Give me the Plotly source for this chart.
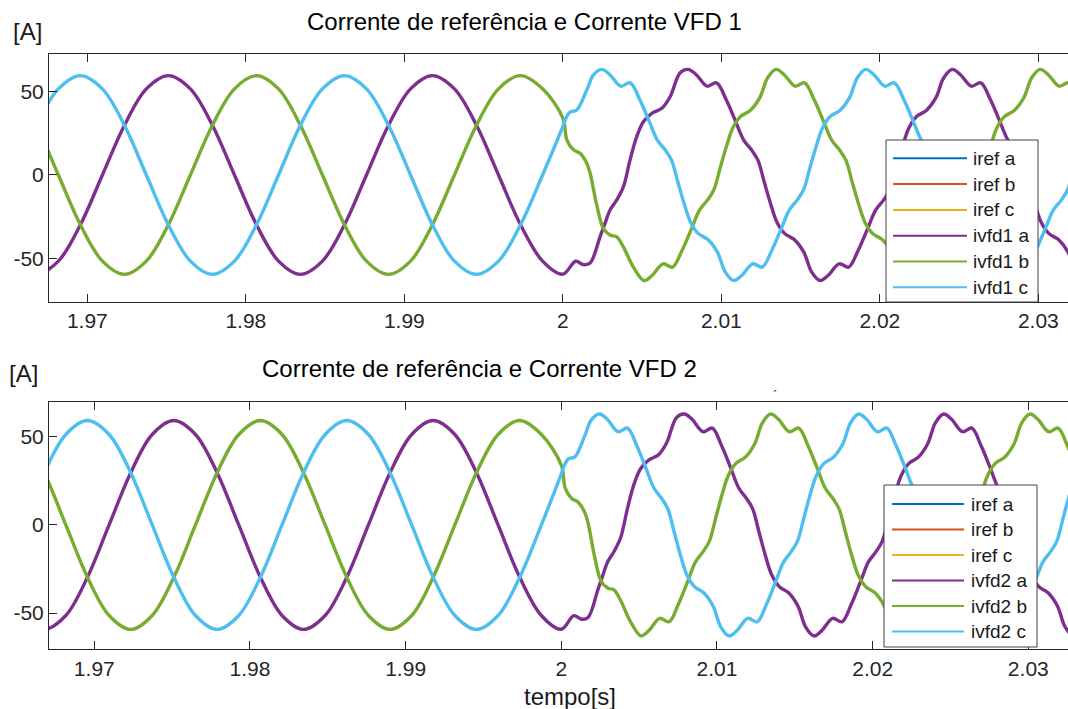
import plotly.graph_objects as go

# ---------------- data ----------------
# phase a (iref a / ivfd a)
t_a = [1.96539, 1.96678, 1.96817, 1.96956, 1.97095, 1.97234, 1.97372, 1.97511, 1.97650, 1.97789,
       1.97928, 1.98067, 1.98206, 1.98344, 1.98483, 1.98622, 1.98761, 1.98900, 1.99039, 1.99177,
       1.99316, 1.99455, 1.99594, 1.99733, 1.99872, 2.00000, 2.00080, 2.00130, 2.00172, 2.00235,
       2.00266, 2.00298, 2.00340, 2.00382, 2.00424, 2.00466, 2.00508, 2.00561, 2.00624, 2.00677,
       2.00740, 2.00790, 2.00840, 2.00910, 2.00970, 2.01030, 2.01090, 2.01140, 2.01190, 2.01230,
       2.01270, 2.01310, 2.01350, 2.01400, 2.01460, 2.01520, 2.01570, 2.01623, 2.01673, 2.01743,
       2.01803, 2.01863, 2.01923, 2.01973, 2.02023, 2.02063, 2.02103, 2.02143, 2.02183, 2.02233,
       2.02293, 2.02353, 2.02403, 2.02457, 2.02507, 2.02577, 2.02637, 2.02697, 2.02757, 2.02807,
       2.02857, 2.02897, 2.02937, 2.02977, 2.03017, 2.03067, 2.03127, 2.03187, 2.03237, 2.03290,
       2.03340]
i_a = [-51.4, -59.3, -51.4, -29.7, 0.0, 29.7, 51.4, 59.3, 51.4, 29.7,
       0.0, -29.7, -51.4, -59.3, -51.4, -29.7, 0.0, 29.7, 51.4, 59.3,
       51.4, 29.7, 0.0, -29.7, -51.4, -59.2, -51.5, -53.5, -52.5, -36.8,
       -28.8, -20.9, -14.9, -7.0, 9.0, 22.9, 31.8, 36.8, 39.8, 46.7,
       61.0, 63.0, 60.0, 53.0, 55.0, 45.0, 32.0, 21.0, 15.0, 9.0,
       -4.0, -17.0, -28.0, -35.0, -38.5, -46.0, -58.0, -63.0, -60.0, -53.0,
       -55.0, -45.0, -32.0, -21.0, -15.0, -9.0, 4.0, 17.0, 28.0, 35.0,
       38.5, 46.0, 58.0, 63.0, 60.0, 53.0, 55.0, 45.0, 32.0, 21.0,
       15.0, 9.0, -4.0, -17.0, -28.0, -35.0, -38.5, -46.0, -58.0, -63.0,
       -60.0]

# phase b (iref b / ivfd b)
t_b = [1.96539, 1.96678, 1.96817, 1.96956, 1.97095, 1.97234, 1.97372, 1.97511, 1.97650, 1.97789,
       1.97928, 1.98067, 1.98206, 1.98344, 1.98483, 1.98622, 1.98761, 1.98900, 1.99039, 1.99177,
       1.99316, 1.99455, 1.99594, 1.99733, 1.99872, 2.00000, 2.00025, 2.00067, 2.00109, 2.00151,
       2.00172, 2.00214, 2.00256, 2.00298, 2.00340, 2.00382, 2.00445, 2.00512, 2.00562, 2.00632,
       2.00692, 2.00752, 2.00812, 2.00862, 2.00912, 2.00952, 2.00992, 2.01032, 2.01072, 2.01122,
       2.01182, 2.01242, 2.01292, 2.01345, 2.01395, 2.01465, 2.01525, 2.01585, 2.01645, 2.01695,
       2.01745, 2.01785, 2.01825, 2.01865, 2.01905, 2.01955, 2.02015, 2.02075, 2.02125, 2.02178,
       2.02228, 2.02298, 2.02358, 2.02418, 2.02478, 2.02528, 2.02578, 2.02618, 2.02658, 2.02698,
       2.02738, 2.02788, 2.02848, 2.02908, 2.02958, 2.03011, 2.03061, 2.03131, 2.03191, 2.03251,
       2.03311]
i_b = [51.4, 29.7, 0.0, -29.7, -51.4, -59.3, -51.4, -29.7, 0.0, 29.7,
       51.4, 59.3, 51.4, 29.7, 0.0, -29.7, -51.4, -59.3, -51.4, -29.7,
       0.0, 29.7, 51.4, 59.3, 51.4, 34.0, 21.0, 15.0, 12.9, 7.0,
       1.0, -18.0, -32.0, -35.8, -37.0, -43.0, -55.0, -63.0, -60.0, -53.0,
       -55.0, -45.0, -32.0, -21.0, -15.0, -9.0, 4.0, 17.0, 28.0, 35.0,
       38.5, 46.0, 58.0, 63.0, 60.0, 53.0, 55.0, 45.0, 32.0, 21.0,
       15.0, 9.0, -4.0, -17.0, -28.0, -35.0, -38.5, -46.0, -58.0, -63.0,
       -60.0, -53.0, -55.0, -45.0, -32.0, -21.0, -15.0, -9.0, 4.0, 17.0,
       28.0, 35.0, 38.5, 46.0, 58.0, 63.0, 60.0, 53.0, 55.0, 45.0,
       32.0]

# phase c (iref c / ivfd c)
t_c = [1.96539, 1.96678, 1.96817, 1.96956, 1.97095, 1.97234, 1.97372, 1.97511, 1.97650, 1.97789,
       1.97928, 1.98067, 1.98206, 1.98344, 1.98483, 1.98622, 1.98761, 1.98900, 1.99039, 1.99177,
       1.99316, 1.99455, 1.99594, 1.99733, 1.99872, 2.00000, 2.00020, 2.00045, 2.00088, 2.00151,
       2.00193, 2.00245, 2.00295, 2.00365, 2.00425, 2.00485, 2.00545, 2.00595, 2.00645, 2.00685,
       2.00725, 2.00765, 2.00805, 2.00855, 2.00915, 2.00975, 2.01025, 2.01078, 2.01128, 2.01198,
       2.01258, 2.01318, 2.01378, 2.01428, 2.01478, 2.01518, 2.01558, 2.01598, 2.01638, 2.01688,
       2.01748, 2.01808, 2.01858, 2.01911, 2.01961, 2.02031, 2.02091, 2.02151, 2.02211, 2.02261,
       2.02311, 2.02351, 2.02391, 2.02431, 2.02471, 2.02521, 2.02581, 2.02641, 2.02691, 2.02744,
       2.02794, 2.02864, 2.02924, 2.02984, 2.03044, 2.03094, 2.03144, 2.03184, 2.03224, 2.03264,
       2.03304]
i_c = [0.0, 29.7, 51.4, 59.3, 51.4, 29.7, 0.0, -29.7, -51.4, -59.3,
       -51.4, -29.7, 0.0, 29.7, 51.4, 59.3, 51.4, 29.7, 0.0, -29.7,
       -51.4, -59.3, -51.4, -29.7, 0.0, 29.0, 34.0, 37.5, 38.8, 50.7,
       59.7, 63.0, 60.0, 53.0, 55.0, 45.0, 32.0, 21.0, 15.0, 9.0,
       -4.0, -17.0, -28.0, -35.0, -38.5, -46.0, -58.0, -63.0, -60.0, -53.0,
       -55.0, -45.0, -32.0, -21.0, -15.0, -9.0, 4.0, 17.0, 28.0, 35.0,
       38.5, 46.0, 58.0, 63.0, 60.0, 53.0, 55.0, 45.0, 32.0, 21.0,
       15.0, 9.0, -4.0, -17.0, -28.0, -35.0, -38.5, -46.0, -58.0, -63.0,
       -60.0, -53.0, -55.0, -45.0, -32.0, -21.0, -15.0, -9.0, 4.0, 17.0,
       28.0]

x_ticks = [1.97, 1.98, 1.99, 2.00, 2.01, 2.02, 2.03]
x_tick_labels = ["1.97", "1.98", "1.99", "2", "2.01", "2.02", "2.03"]
y_ticks = [-50, 0, 50]
y_tick_labels = ["-50", "0", "50"]

ref_names = ["iref a", "iref b", "iref c"]
vfd1_names = ["ivfd1 a", "ivfd1 b", "ivfd1 c"]
vfd2_names = ["ivfd2 a", "ivfd2 b", "ivfd2 c"]

title1 = "Corrente de referência e Corrente VFD 1"
title2 = "Corrente de referência e Corrente VFD 2"

# ---------------- styling ----------------
W, H = 1068, 709
FONT = "Liberation Sans, Arial, sans-serif"
AX = "#262626"
ref_colors = ["#0072BD", "#D95319", "#EDB120"]
vfd_colors = ["#7E2F8E", "#77AC30", "#4DBEEE"]


def px(x):
    return x / W


def py(y):
    return 1 - y / H


phases = [(t_a, i_a), (t_b, i_b), (t_c, i_c)]

fig = go.Figure()
for xa, ya, vnames in [("x", "y", vfd1_names), ("x2", "y2", vfd2_names)]:
    for k, (tt, vv) in enumerate(phases):
        fig.add_trace(go.Scatter(x=tt, y=vv, mode="lines", name=ref_names[k],
                                 line=dict(color=ref_colors[k], width=1.5, shape="spline"),
                                 xaxis=xa, yaxis=ya, showlegend=False))
    for k, (tt, vv) in enumerate(phases):
        fig.add_trace(go.Scatter(x=tt, y=vv, mode="lines", name=vnames[k],
                                 line=dict(color=vfd_colors[k], width=3.4, shape="spline"),
                                 xaxis=xa, yaxis=ya, showlegend=False))

axis_common = dict(showgrid=False, zeroline=False, showline=True, linecolor=AX, linewidth=1,
                   ticks="inside", ticklen=8, tickwidth=1, tickcolor=AX,
                   tickfont=dict(family=FONT, size=21, color=AX))

fig.update_layout(
    width=W, height=H,
    margin=dict(l=0, r=0, t=0, b=0),
    paper_bgcolor="white", plot_bgcolor="white",
    showlegend=False,
    xaxis=dict(domain=[px(49), 1.0], range=[1.96758, 2.03187], anchor="y",
               tickvals=x_ticks, ticktext=x_tick_labels, mirror="ticks", **axis_common),
    yaxis=dict(domain=[py(302), py(54)], range=[-75.8, 72.2], anchor="x",
               tickvals=y_ticks, ticktext=y_tick_labels, mirror=False, **axis_common),
    xaxis2=dict(domain=[px(49), 1.0], range=[1.96709, 2.03255], anchor="y2",
                tickvals=x_ticks, ticktext=x_tick_labels, mirror="ticks", **axis_common),
    yaxis2=dict(domain=[py(649.3), py(401.7)], range=[-70.6, 70.0], anchor="x2",
                tickvals=y_ticks, ticktext=y_tick_labels, mirror=False, **axis_common),
)

annotations = []
shapes = []


def text(x, y, s, size, anchor="center", color="#000000"):
    annotations.append(dict(x=px(x), y=py(y), xref="paper", yref="paper", text=s,
                            showarrow=False, xanchor=anchor, yanchor="middle",
                            font=dict(family=FONT, size=size, color=color)))


text(524, 22, title1, 24)
text(479, 368, title2, 24)
text(27, 31, "[A]", 24, color="#1a1a1a")
text(23, 374, "[A]", 24, color="#1a1a1a")
text(570, 696, "tempo[s]", 24, color="#1a1a1a")
text(775, 396, "´", 14, color="#1a1a1a")


def legend(x0, x1, y0, y1, lx0, lx1, tx, row0, dy, names, colors):
    shapes.append(dict(type="rect", xref="paper", yref="paper", x0=px(x0), x1=px(x1),
                       y0=py(y1), y1=py(y0), fillcolor="white",
                       line=dict(color="#404040", width=1), layer="above"))
    for k, (nm, col) in enumerate(zip(names, colors)):
        yy = row0 + k * dy
        shapes.append(dict(type="line", xref="paper", yref="paper", x0=px(lx0), x1=px(lx1),
                           y0=py(yy), y1=py(yy), line=dict(color=col, width=2), layer="above"))
        text(tx, yy, nm, 19, anchor="left", color="#1a1a1a")


legend(886, 1038, 140, 302, 893, 967, 971, 158.3, 25.8, ref_names + vfd1_names,
       ref_colors + vfd_colors)
legend(884, 1037, 485, 647, 892, 964, 969, 504, 25.5, ref_names + vfd2_names,
       ref_colors + vfd_colors)

fig.update_layout(annotations=annotations, shapes=shapes)
fig.write_html("out.html", config={"displayModeBar": False},
               post_script="document.body.style.margin='0px';document.body.style.overflow='hidden';")
